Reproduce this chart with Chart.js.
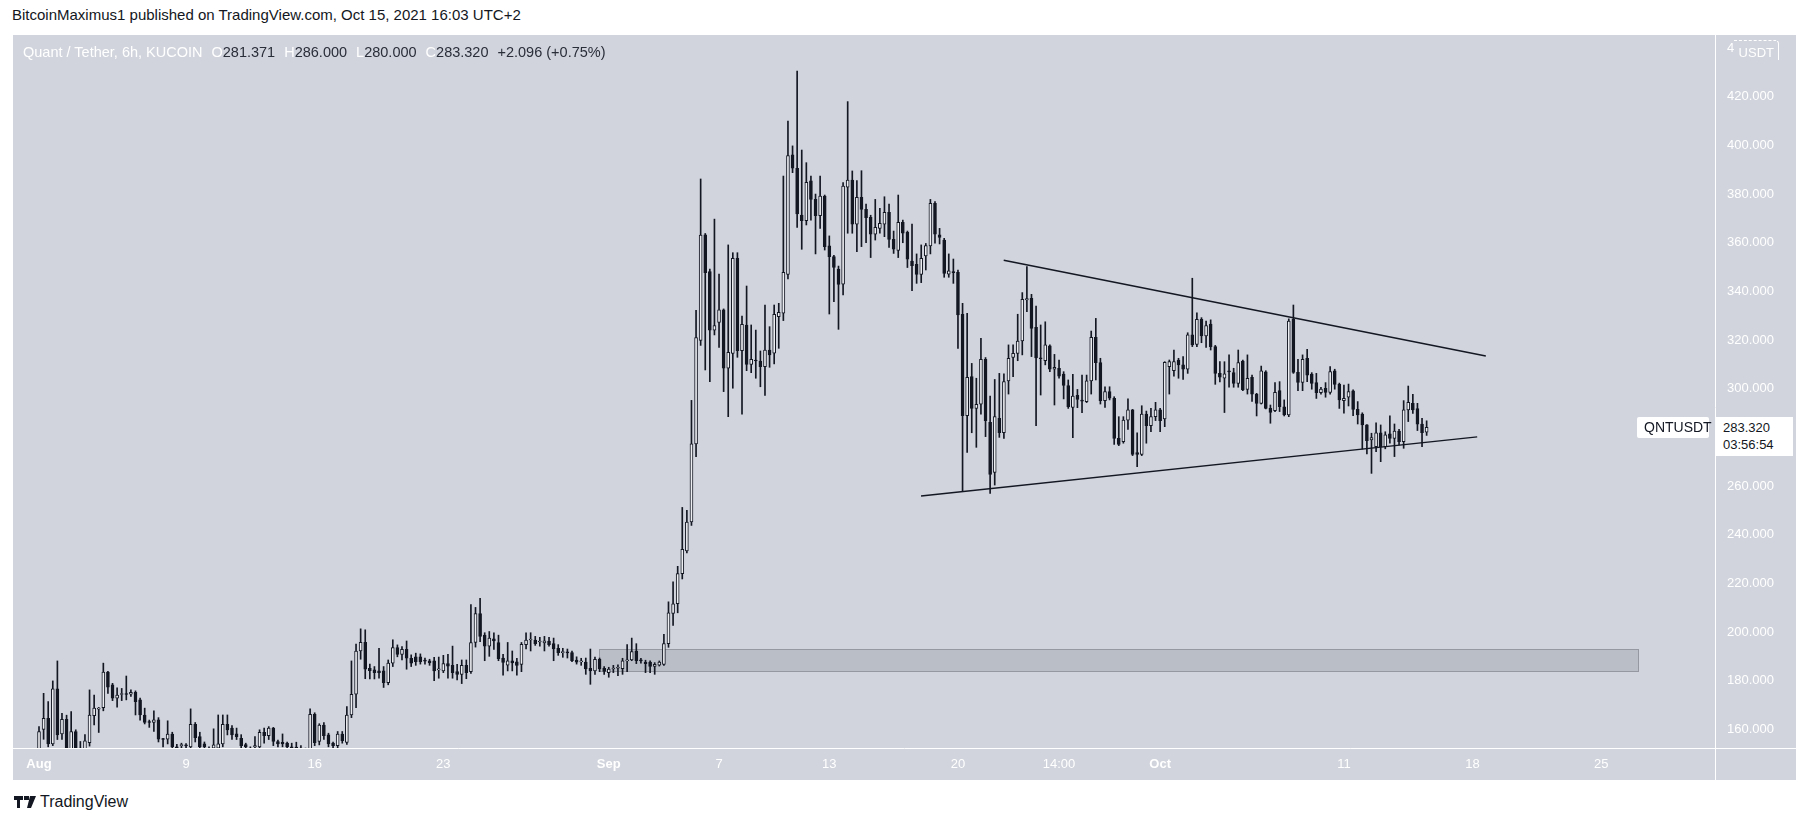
<!DOCTYPE html>
<html>
<head>
<meta charset="utf-8">
<title>QNTUSDT 6h</title>
<script src="https://cdn.jsdelivr.net/npm/chart.js@4.4.1/dist/chart.umd.min.js"></script>
<style>
  html, body { margin: 0; padding: 0; background: #ffffff; }
  body { width: 1813px; height: 826px; position: relative; overflow: hidden;
         font-family: 'Liberation Sans Narrow', 'Liberation Sans', sans-serif; }
  #header { position: absolute; left: 12px; top: 6px; font-size: 15px; color: #131722; white-space: nowrap; }
  #panel { position: absolute; left: 13px; top: 35px; width: 1783px; height: 745px; background: #d1d4dc; }
  #legend { position: absolute; left: 10px; top: 9px; font-size: 14.5px; white-space: nowrap; color: #ffffff; }
  #legend .v { color: #2a2e39; margin-right: 9px; }
  #legend .n { margin-right: 9px; }
  #symTag { position: absolute; left: 1624px; width: 72px; height: 21px; background: #ffffff; border-radius: 2px;
            font-family: 'Liberation Sans', sans-serif; font-size: 14px; line-height: 21px; color: #131722; padding-left: 7px; box-sizing: border-box; }
  #axisTag { position: absolute; left: 1703px; width: 77px; height: 39px; background: #ffffff;
             font-family: 'Liberation Sans', sans-serif; font-size: 13px; line-height: 17px; color: #131722; padding: 2px 0 0 7px; box-sizing: border-box; }
  #unit { position: absolute; left: 1721px; top: 5px; width: 45px; height: 20px; background: #d1d4dc;
          border-top: 1px dashed #ffffff; border-right: 1px solid #ffffff; border-radius: 0 4px 0 0;
          font-family: 'Liberation Sans', sans-serif; font-size: 13px; line-height: 23px; color: #ffffff; text-align: right; padding-right: 4px; box-sizing: border-box; }
  #logo { position: absolute; left: 14px; top: 793px; height: 18px; display: flex; align-items: center; gap: 4px;
          font-size: 16px; color: #131722; }
</style>
</head>
<body>
<div id="header">BitcoinMaximus1 published on TradingView.com, Oct 15, 2021 16:03 UTC+2</div>
<div id="panel">
  <canvas id="chart" width="1783" height="745"></canvas>
  <div id="legend"><span class="n">Quant / Tether, 6h, KUCOIN</span>O<span class="v">281.371</span>H<span class="v">286.000</span>L<span class="v">280.000</span>C<span class="v">283.320</span><span class="v">+2.096 (+0.75%)</span></div>
  <div id="unit">USDT</div>
  <div id="symTag">QNTUSDT</div>
  <div id="axisTag">283.320<br>03:56:54</div>
</div>
<div id="logo">
  <svg width="22" height="12" viewBox="0 0 22 12"><path d="M0 0h9v4H6v8H3V4H0z M10 0h5v4h-5z M16 0h6l-5 12h-4z" fill="#131722"/></svg>
  <span>TradingView</span>
</div>
<script>
// 6h candles [open, high, low, close], first one at Aug 1 00:00
const augCandles = [
  [149,160.3,146,158.3],[159.2,174,155.1,163.7],[163.7,170.6,152,153.2],[153.2,179.1,152.5,175.8],[175.8,187.3,155,156.9],
  [157.3,165.8,155,163.3],[163.3,165,146,149],[149.5,166.5,147,158.3],[158.3,159,146,149.5],[150,154.2,147,151.5],
  [150,157,147,154.5],[153.7,175.4,152.3,165.1],[164.8,173.3,161,167.9],[167.5,168.2,157.9,167.9],[168.1,186.4,166.8,182.7],
  [182.7,183,174,176.5],[177.5,178.1,171,172],[172,176.2,168.3,173.3],[173.5,176,171,173.7],[173.7,181.1,171.3,173.5],
  [173.6,175.4,172.7,174.4],[174.4,175,165.1,170.6],[171.3,172,163,165.1],[165.1,167.9,161.4,162],[162.4,163,160,162],
  [162,166.8,158.3,163.1],[163.1,164,154,155.1],[155.2,155.5,152,155],[155.1,162.7,153.2,157.2],[157.2,158,150,152],
  [152,153,148,150.5],[152.5,153.5,150,152.6],[152.6,153.3,150,152.4],[152,167.6,150,161.3],[161.3,162,154,155.8],
  [156.2,158,150,152],[153.2,154,150,152],[151,152,148,150.5],[151.5,159.4,150,152.8],[151.5,165.1,150,153.2],
  [153.2,165.1,152,161.3],[161.3,165.1,156.9,159],[159.7,160.7,155,156.9],[157.3,159.7,155,156.2],[155.5,157,151,152.5],
  [152.9,153.5,150,152],[151.5,152,149,150.5],[152,156.2,150,152.5],[152,159,150,158],[158,159.7,153.5,156.6],
  [156.6,160.3,155,159.7],[159.7,160,152.5,154.2],[154.2,154.8,152,153.2],[153.8,157.3,152,153.2],[153.5,154,151,152],
  [152,153.5,150,151.6],[151.8,153.9,150,151.5],[151.5,152.5,149,151],[151,151.5,148,150],[150,167.6,148,165.4],
  [165.4,166,152.5,153.7],[154.2,161.5,152.8,160.9],[160.9,162,155,156.6],[156.9,157.6,152,153.2],[153.5,154,151.5,152.5],
  [152.5,158.3,151.5,157.2],[157.2,158.3,153.5,154.5],[153.8,168.5,153,165.1],[165.1,187.3,164,173.6],[173.6,194.2,168.1,191.4],
  [191.4,200.5,188,195],[195,200.1,180,183.9],[184.3,186,179.9,183.3],[183.6,185,179.9,182.5],[183.2,192.5,180.2,182.5],
  [183.2,185,176.4,178.4],[178.4,187.7,177.5,186.4],[186.4,196,185,192.8],[192.8,193.9,189,190],[190,193.2,187.7,192.1],
  [192.1,195.5,183.9,188.4],[188.4,189.8,185,186.4],[189,190.5,185.5,187],[189,190.2,186,187],[187.4,188.5,186,187.2],
  [187.4,188,185.5,186.5],[187.3,188.8,179.2,183.2],[183.6,188.9,180.2,183.8],[183.2,189.6,182.5,186.2],[186.2,190,180.2,185.2],
  [185.5,193.4,180.2,182.5],[182.9,185.9,179.5,181.8],[181.8,187.7,178,185.5],[185.5,187.7,180,182.5],[182.9,210.5,182.2,194.9],
  [194.9,209.3,193,206.8],[206.8,213,195.2,197.4],[197.9,198.9,187.4,193.4],[193.4,199.4,189.2,196.7],[196.4,198.9,192,195.5],
  [194.9,197.9,187.4,188.2],[188.5,190,181.5,186.7],[185.6,194.9,183.2,187.4],[187.4,191.4,183.2,186.5],[186.9,188.4,181.5,185.5],
  [185.9,194.9,182.9,194.1],[194,198.9,192.2,195.9],[195.9,198.9,191.4,196.3],[195.9,197.4,193.7,194.4],[195.1,197,193.4,195.3],
  [194.7,197.4,191.4,195.6],[195.5,197,193.4,194],[194.4,196.7,187.4,192.2],[192.5,194,189.6,190.7],[190.7,192.5,188.8,190.8],
  [190.8,192.2,188.5,190.6],[190.7,191.4,187,187.4],[187.7,189,186,186.8],[186.9,188.4,185.5,187],[186.8,188.5,181.8,184],
  [184.3,192.2,177.7,183.2],[183.2,188.9,181.8,188],[188,188.5,182.9,184],[184.3,185,181.8,183]
];
const sepCandles = [
  [182.5,184.7,180.6,184],[184,185.5,182.5,184.1],[184.3,185.7,181.2,184.4],[184.1,188.4,181.8,187.3],[187.3,194,182.9,187.4],
  [187.7,196.7,187.4,191.1],[191.4,194.4,186.2,187.4],[187.4,188.4,186.4,187.3],[186.8,187.6,182.5,186.2],[186.8,187.4,182.5,185],
  [185,186.6,181.8,185.9],[185.6,187.3,185.2,186.8],[185.9,198.2,185.5,194.4],[194.4,211.6,192.9,207.1],[206.8,219.8,201.9,210.8],
  [210.8,226.2,207.1,223.2],[223.2,250.4,221,233.2],[232.5,249.2,231.7,244.4],[244.4,294.4,243,276.5],[276.5,331.4,271.3,320.2],
  [319,385.4,317,362.3],[362.4,363,306.9,346.9],[347.3,348.4,302.1,323.3],[323.3,368.9,321.3,325.1],[326.4,346.3,316.2,331.6],
  [331.6,332,298,307.6],[307.6,358.3,287.7,314.2],[313.7,355.1,299.4,352.8],[352.8,355.1,312.1,314.8],[314.8,329.1,288.7,325.7],
  [325.4,341.4,306.6,309.2],[309.2,325.4,305.8,311.3],[310.9,323.3,303.5,310.6],[310.6,314.7,300,308.3],[308.3,333.6,296.4,315.1],
  [315.1,324.7,308,313.1],[313.8,333.6,309.4,329.8],[328.8,334.3,315.8,330.6],[330.2,386.6,327.2,347],[346.2,409.2,344.3,395],
  [395.3,399,388,389.8],[389.8,429.8,365.5,371],[370.6,397.3,356.5,368.3],[368.3,392.1,366.5,384],[384.6,386.6,368.5,377],
  [377,379.2,354.6,370.3],[370.3,386.6,365.1,378.4],[378.4,378.8,356.2,357.6],[357.9,362,329.9,353.5],[353.5,354,335,349.1],
  [348.4,349.6,323.6,342.1],[342.2,383.9,337.7,382.5],[382,417.2,363.1,385],[385,388.7,363.1,366.8],[366.8,384.7,355.5,377.9],
  [377.9,388.8,357.6,372.9],[372.9,375.1,359.2,369.5],[369.6,370.5,353.1,362.7],[362.7,377,360.3,365.5],[365.1,373.3,363.1,367.2],
  [366.8,378.1,361.7,371.7],[371.7,375.1,357.3,360.6],[360.6,364,354.8,356.5],[356,378.8,353.1,367.6],[367.6,368.5,359.2,363.1],
  [363.5,364,349,352.4],[351.7,366.9,339.5,349.8],[350.3,354.6,342.5,346.2],[346.2,358.3,342.8,352.8],[353.8,358.9,348,358],
  [357.9,377,354.6,375.4],[375.4,376.1,359,362.7],[362.4,365.1,358.7,361.4],[360.3,361,345,346.6],[346.3,354.6,345,347.6],
  [347.1,352.5,342.5,346.9],[347,348,315.8,329.5],[329.8,334.3,256.9,288.1],[288.1,330.2,273,303.9],[304.2,309.6,281.1,291.1],
  [291.1,303.5,275.1,292.8],[292.8,319.9,288.7,311.3],[311.3,312,279.5,286.1],[285.4,296.2,256.2,264],[264.8,303,259.6,287.7],
  [287,305.5,279.2,281.1],[281.1,305.3,278.8,302.1],[302.4,317.2,297,311.7],[312.1,317.2,304.1,313.7],[313.7,329.8,310.7,318.8],
  [318.8,338.7,313.1,335.9],[335.7,349.4,330.9,336.2],[336.3,338,312.4,324],[324.4,333.2,284,311.9],[311.6,325.4,296.6,311.5],
  [310.7,326.7,309,317.2],[316.8,317.2,306.2,307.2],[307.2,313.3,292.5,308],[307.6,311,303.5,304.4],[305.2,306.2,295,300.5],
  [300.5,302.8,291.1,291.8],[291.5,305.1,279.1,296.2],[296.5,298.9,291.4,294.8],[294.3,304.8,289.3,294.1],[293.9,304.8,293.5,302.4],
  [302.4,322.9,297,320.3],[320.3,328.1,302.8,309.9],[309.9,311.7,292.9,294.3],[294.3,300,291.5,298],[298,300,294.6,295.3],
  [295.2,295.9,276.3,278.8],[278.8,287.7,275.8,276.3],[277.4,287.7,276.8,286.3],[286.3,295,282.5,290.5],[290.5,290.7,271.7,272.2],
  [272.9,281.1,267.2,272.2],[272.2,292.2,271.7,288.8],[288.8,290,276.8,284],[284,291.1,281.5,287.7],[287.7,293.6,286.1,290.5]
];
const octCandles = [
  [290.5,291.1,281.5,286.1],[286.8,310.3,283.6,310],[308.3,311,297,310.3],[306.6,315.1,304.4,310.3],[311,311.7,303.5,309],
  [309,312.4,303,307.2],[307.2,322.2,305.5,321.3],[321.3,344.6,316.5,317.2],[317.4,330.4,316.5,327.7],[327.7,328.4,318.1,320.9],
  [320.9,327,316.2,325.1],[325.8,327.5,315.1,316.5],[316.5,317,301,305.5],[305.5,310.3,302,303.9],[303.5,310.3,289.4,305.3],
  [306.3,313.1,299.8,306.1],[305.8,307.6,299.8,301.4],[301.4,315.1,299.8,309.9],[310.6,311,298.4,298.7],[298.9,313.1,297,303.5],
  [303.9,304.8,294,297],[297,297.3,288,293.2],[293.2,308.5,292.9,306.5],[306.1,306.6,290.9,291.1],[291.1,292.5,285,289.5],
  [290.2,301.7,289.8,297.7],[298.4,302.1,289.8,291.8],[291.8,294.6,288,288.4],[288.4,327.9,287.7,327],[327.7,333.6,305.5,305.9],
  [305.9,311.3,298.4,301.8],[301.8,313.1,298.4,311.3],[311.7,315.4,302.1,304.8],[305.2,305.8,299,301.4],[301.7,305.5,295.2,297.6],
  [297.6,299.8,297,299],[299.4,301.7,295.7,297.7],[297.7,308.3,297,306.2],[306.5,307.2,299,301],[301,301.5,291.1,294.6],
  [294.3,300.7,289.1,295.2],[295.7,301.1,292.1,298],[298.3,298.7,288.1,290.7],[290.7,293.9,284.7,288.4],[288.8,289.3,274.4,284.3],
  [284.3,284.5,272.4,277.8],[278.1,280.9,264.4,279.1],[275.4,285.2,273.3,281.1],[281.1,284.3,269.2,275.4],[275.4,281.5,274.5,280.2],
  [280.6,288,276.8,278.8],[278.8,284.7,271.3,281.8],[281.8,282.5,276.1,277.4],[277.4,294.3,274.7,290.5],[290.5,300.3,285.7,293.6],
  [293.2,296.9,289,290.5],[291,293.2,282,284.6],[284.7,287,275.4,281.1],[281.371,286,280,283.32]
];
const stepDays = 0.25;          // 6h bars, x axis counts days from Aug 1
const priceTicks = [160, 180, 200, 220, 240, 260, 280, 300, 320, 340, 360, 380, 400, 420, 440];
const xTickDays = [0, 8, 15, 22, 31, 37, 43, 50, 55.5, 61, 71, 78, 85];
const xTickLabels = ['Aug', '9', '16', '23', 'Sep', '7', '13', '20', '14:00', 'Oct', '11', '18', '25'];
const boldLabels = ['Aug', 'Sep', 'Oct'];
const upperLineDays = [52.49, 78.72];
const upperLinePrices = [352, 312.6];
const lowerLineDays = [47.99, 78.25];
const lowerLinePrices = [255.1, 279.4];
const zoneDays = [30.47, 87.0];
const zonePrices = [183.2, 192.2];
const lastPrice = 283.32;

const candles = augCandles.concat(sepCandles, octCandles);
const ink = '#131722';

const wicks = candles.map((c, i) => ({ x: i * stepDays, y: [c[2], c[1]] }));
const bodies = candles.map((c, i) => ({ x: i * stepDays, y: [c[0], c[3]] }));
const bodyFill = candles.map(c => c[3] >= c[0] ? '#eceef2' : ink);

const overlay = {
  id: 'overlay',
  beforeDatasetsDraw(chart) {
    const { ctx, scales: { x, y } } = chart;
    const l = Math.round(x.getPixelForValue(zoneDays[0])) + 0.5;
    const r = Math.round(x.getPixelForValue(zoneDays[1])) + 0.5;
    const t = Math.round(y.getPixelForValue(zonePrices[1])) + 0.5;
    const b = Math.round(y.getPixelForValue(zonePrices[0])) + 0.5;
    ctx.save();
    ctx.fillStyle = 'rgba(120,123,134,0.25)';
    ctx.fillRect(l, t, r - l, b - t);
    ctx.strokeStyle = '#9598a1';
    ctx.lineWidth = 1;
    ctx.strokeRect(l, t, r - l, b - t);
    ctx.restore();
  },
  afterDraw(chart) {
    const { ctx, chartArea, width, height, scales: { y } } = chart;
    const vx = Math.round(chartArea.right) + 0.5, hy = Math.round(chartArea.bottom) + 0.5;
    ctx.save();
    ctx.strokeStyle = '#ffffff';
    ctx.lineWidth = 1;
    ctx.beginPath();
    ctx.moveTo(vx, 0); ctx.lineTo(vx, height);
    ctx.moveTo(0, hy); ctx.lineTo(width, hy);
    ctx.stroke();
    ctx.restore();
    const py = y.getPixelForValue(lastPrice);
    document.getElementById('axisTag').style.top = Math.round(py - 10) + 'px';
    document.getElementById('symTag').style.top = Math.round(py - 10) + 'px';
  }
};

new Chart(document.getElementById('chart').getContext('2d'), {
  type: 'bar',
  data: {
    datasets: [
      { label: 'wick', data: wicks, backgroundColor: ink, barThickness: 1, grouped: false, order: 3, clip: 0 },
      { label: 'body', data: bodies, backgroundColor: bodyFill, borderColor: ink, borderWidth: 1,
        borderSkipped: false, barThickness: 3, minBarLength: 1, grouped: false, order: 2, clip: 0 },
      { type: 'line', label: 'upper', data: upperLineDays.map((d, i) => ({ x: d, y: upperLinePrices[i] })),
        borderColor: ink, borderWidth: 1.5, pointRadius: 0, order: 1, clip: 0 },
      { type: 'line', label: 'lower', data: lowerLineDays.map((d, i) => ({ x: d, y: lowerLinePrices[i] })),
        borderColor: ink, borderWidth: 1.5, pointRadius: 0, order: 1, clip: 0 }
    ]
  },
  options: {
    responsive: false,
    devicePixelRatio: 1,
    animation: false,
    layout: { padding: 0 },
    plugins: { legend: { display: false }, tooltip: { enabled: false } },
    scales: {
      x: {
        type: 'linear',
        min: -1.415,
        max: 91.19,
        offset: false,
        grid: { display: false, drawTicks: false },
        border: { display: false },
        afterBuildTicks: s => { s.ticks = xTickDays.map(v => ({ value: v })); },
        afterFit: s => { s.height = 32; s.paddingLeft = 0; s.paddingRight = 0; },
        ticks: {
          autoSkip: false, maxRotation: 0, padding: 9, color: '#ffffff',
          font: ctx => ({ family: "'Liberation Sans Narrow', 'Liberation Sans', sans-serif", size: 13,
                          weight: boldLabels.includes(xTickLabels[ctx.index]) ? 'bold' : 'normal' }),
          callback: (v, i) => xTickLabels[i]
        }
      },
      y: {
        position: 'right',
        min: 151.52,
        max: 444.58,
        grid: { display: false, drawTicks: false },
        border: { display: false },
        afterBuildTicks: s => { s.ticks = priceTicks.map(v => ({ value: v })); },
        afterFit: s => { s.width = 81; s.paddingTop = 0; s.paddingBottom = 0; },
        ticks: {
          padding: 12, labelOffset: 2, color: '#ffffff',
          font: { family: "'Liberation Sans', sans-serif", size: 13 },
          callback: v => v.toFixed(3)
        }
      }
    }
  },
  plugins: [overlay]
});
</script>
</body>
</html>
